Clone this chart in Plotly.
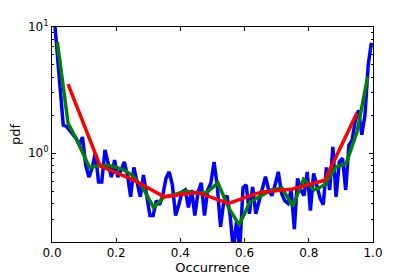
import plotly.graph_objects as go

# Fine histogram (100 bins)
blue_x = [(k + 0.5) / 100 for k in range(100)]
blue_y = [13.6, 6.9, 3.4, 1.67, 1.63, 1.52, 1.41, 1.31, 1.16, 1.34,
          0.80, 0.645, 0.76, 1.0, 0.59, 0.59, 1.06, 0.85, 0.645, 0.88,
          0.645, 0.73, 0.85, 0.67, 0.45, 0.77, 0.58, 0.45, 0.67, 0.45,
          0.32, 0.32, 0.42, 0.39, 0.46, 0.63, 0.71, 0.56, 0.32, 0.39,
          0.49, 0.51, 0.37, 0.51, 0.32, 0.49, 0.58, 0.32, 0.51, 0.58,
          0.85, 0.54, 0.26, 0.41, 0.46, 0.32, 0.17, 0.29, 0.17, 0.53,
          0.56, 0.33, 0.54, 0.33, 0.42, 0.51, 0.65, 0.51, 0.46, 0.56,
          0.71, 0.48, 0.42, 0.40, 0.51, 0.25, 0.63, 0.51, 0.46, 0.71,
          0.35, 0.69, 0.56, 0.44, 0.39, 0.77, 0.51, 1.12, 0.45, 0.85,
          0.91, 0.51, 1.16, 1.27, 1.83, 2.19, 1.40, 2.0, 5.0, 7.5]

# Medium histogram (30 bins)
green_x = [(k + 0.5) / 30 for k in range(30)]
green_y = [7.6, 1.73, 1.18, 0.77, 0.80, 0.79, 0.75, 0.67, 0.53, 0.37,
           0.45, 0.47, 0.50, 0.48, 0.49, 0.58, 0.37, 0.27, 0.41, 0.46,
           0.51, 0.53, 0.38, 0.62, 0.51, 0.56, 0.77, 0.83, 1.47, 4.0]

# Coarse histogram (10 bins)
red_x = [(k + 0.5) / 10 for k in range(10)]
red_y = [3.53, 0.79, 0.62, 0.45, 0.49, 0.40, 0.49, 0.52, 0.61, 2.08]

x_ticks = [0.0, 0.2, 0.4, 0.6, 0.8, 1.0]
x_tick_labels = ["0.0", "0.2", "0.4", "0.6", "0.8", "1.0"]
y_ticks = [1, 10]
y_tick_labels = ["10<sup>0</sup>", "10<sup>1</sup>"]
y_minor = [0.2, 0.3, 0.4, 0.5, 0.6, 0.7, 0.8, 0.9, 2, 3, 4, 5, 6, 7, 8, 9]

fig = go.Figure()
fig.add_trace(go.Scatter(x=blue_x, y=blue_y, mode="lines",
                         line=dict(color="#0000ff", width=3.5)))
fig.add_trace(go.Scatter(x=green_x, y=green_y, mode="lines",
                         line=dict(color="#008000", width=3.5)))
fig.add_trace(go.Scatter(x=red_x, y=red_y, mode="lines",
                         line=dict(color="#ff0000", width=3.5)))

font = dict(family="DejaVu Sans", size=12, color="black")
fig.update_layout(
    width=407, height=269,
    margin=dict(l=44, r=42, t=19, b=35),
    paper_bgcolor="white", plot_bgcolor="white",
    showlegend=False,
    font=font,
    xaxis=dict(
        range=[0, 1], tickvals=x_ticks, ticktext=x_tick_labels,
        ticks="inside", ticklen=4, tickcolor="black",
        showline=True, linecolor="black", linewidth=1, mirror="ticks",
        showgrid=False, zeroline=False, automargin=False,
        title=dict(text="Occurrence", font=dict(family="DejaVu Sans", size=13), standoff=2),
    ),
    yaxis=dict(
        type="log", range=[-0.705, 1],
        tickvals=y_ticks, ticktext=y_tick_labels,
        ticks="inside", ticklen=4, tickcolor="black",
        minor=dict(tickvals=y_minor, ticks="inside", ticklen=2, tickcolor="black", showgrid=False),
        showline=True, linecolor="black", linewidth=1, mirror="ticks",
        showgrid=False, zeroline=False, automargin=False,
        title=dict(text="pdf", font=dict(family="DejaVu Sans", size=13), standoff=4),
    ),
)

fig.write_html("out.html")
